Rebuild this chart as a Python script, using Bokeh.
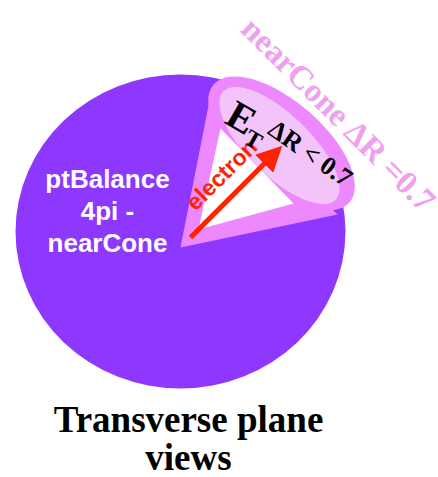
import math
from bokeh.plotting import figure
from bokeh.models import Range1d, Arrow, NormalHead
from bokeh.core.properties import value
from bokeh.embed import file_html
from bokeh.resources import INLINE

# ---- diagram description (reference pixel coordinates, y downward) ----
W, H = 438, 477
circle_center = [180, 231]
circle_size = [330, 314]          # full width / height of the purple disc

cone_outline = [[180, 247], [211, 90], [337, 214]]   # pink cone body
cone_inner = [[198, 229], [220, 128], [293, 203]]    # white inside of cone
cap_outer = [281, 143, 180, 84, 41]   # cx, cy, width, height, angle(deg, clockwise)
cap_inner = [279, 145, 156, 62, 44]

arrow_tail = [190, 237]
arrow_tip = [281, 146]

disc_lines = ["ptBalance", "4pi -", "nearCone"]
disc_line_y = [178, 210, 242]
disc_x = 107

title_lines = ["Transverse plane", "views"]
title_line_y = [419, 457]
title_x = 188

cone_label = "nearCone \u0394R =0.7"
cut_label = "\u0394R < 0.7"
particle_label = "electron"

PURPLE = "#8E38FF"
PINK = "#EE88FF"
LIGHT = "#F2C4FA"
LABEL_PINK = "#F0A0F0"
RED = "#FF2200"


def Y(y):
    return H - y


p = figure(width=W, height=H, output_backend="svg", toolbar_location=None,
           x_range=Range1d(0, W), y_range=Range1d(0, H),
           min_border=0)
p.axis.visible = False
p.grid.visible = False
p.outline_line_color = None
p.background_fill_color = "white"
p.border_fill_color = "white"

# purple disc
p.ellipse(x=[circle_center[0]], y=[Y(circle_center[1])], width=[circle_size[0]],
          height=[circle_size[1]], fill_color=PURPLE, line_color=None)

# cone body
p.patch([pt[0] for pt in cone_outline], [Y(pt[1]) for pt in cone_outline],
        fill_color=PINK, line_color=None)
p.ellipse(x=[cap_outer[0]], y=[Y(cap_outer[1])], width=[cap_outer[2]], height=[cap_outer[3]],
          angle=[-math.radians(cap_outer[4])], fill_color=PINK, line_color=None)
p.patch([pt[0] for pt in cone_inner], [Y(pt[1]) for pt in cone_inner],
        fill_color="white", line_color=None)
p.ellipse(x=[cap_inner[0]], y=[Y(cap_inner[1])], width=[cap_inner[2]], height=[cap_inner[3]],
          angle=[-math.radians(cap_inner[4])], fill_color=LIGHT, line_color=None)

# electron arrow
p.add_layout(Arrow(end=NormalHead(size=24, fill_color=RED, line_color=RED),
                   x_start=arrow_tail[0], y_start=Y(arrow_tail[1]),
                   x_end=arrow_tip[0], y_end=Y(arrow_tip[1]),
                   line_color=RED, line_width=5))

# texts
p.text(x=[221], y=[Y(174)], text=[particle_label], angle=[math.radians(45)],
       text_font=value("Liberation Sans"), text_font_style="bold", text_font_size="23px",
       text_color=RED, text_align="center", text_baseline="middle")

p.text(x=[241], y=[Y(117)], text=["E"], angle=[-math.radians(30)],
       text_font=value("Liberation Serif"), text_font_style="bold", text_font_size="40px",
       text_color="black", text_align="center", text_baseline="middle")
p.text(x=[253], y=[Y(139)], text=["T"], angle=[-math.radians(30)],
       text_font=value("Liberation Serif"), text_font_style="bold", text_font_size="24px",
       text_color="black", text_align="center", text_baseline="middle")
p.text(x=[310], y=[Y(153)], text=[cut_label], angle=[-math.radians(35)],
       text_font=value("Liberation Serif"), text_font_style="bold", text_font_size="26px",
       text_color="black", text_align="center", text_baseline="middle")

p.text(x=[338], y=[Y(114)], text=[cone_label], angle=[-math.radians(45)],
       text_font=value("Liberation Serif"), text_font_style="bold", text_font_size="33px",
       text_color=LABEL_PINK, text_align="center", text_baseline="middle")

p.text(x=[disc_x] * len(disc_lines), y=[Y(v) for v in disc_line_y], text=disc_lines,
       text_font=value("Liberation Sans"), text_font_style="bold", text_font_size="26px",
       text_color="white", text_align="center", text_baseline="middle")

p.text(x=[title_x] * len(title_lines), y=[Y(v) for v in title_line_y], text=title_lines,
       text_font=value("Liberation Serif"), text_font_style="bold", text_font_size="37px",
       text_color="black", text_align="center", text_baseline="middle")

open("out.html", "w").write(file_html(p, INLINE))
